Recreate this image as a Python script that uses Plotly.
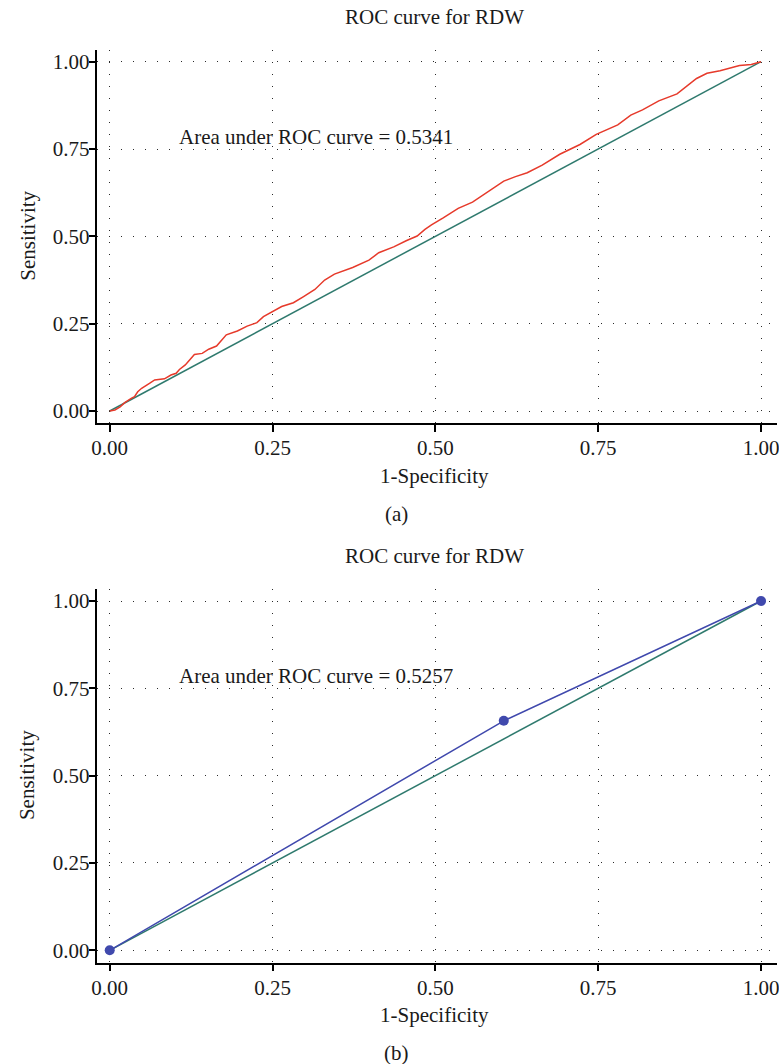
import plotly.graph_objects as go

# ---- data ----
fpr_a = [0.0, 0.008, 0.016, 0.023, 0.033, 0.038, 0.043, 0.049, 0.061, 0.069, 0.084, 0.094,
         0.102, 0.107, 0.116, 0.130, 0.142, 0.152, 0.164, 0.179, 0.196, 0.211, 0.226, 0.236,
         0.264, 0.282, 0.297, 0.315, 0.330, 0.345, 0.373, 0.398, 0.413, 0.436, 0.456, 0.472,
         0.484, 0.494, 0.512, 0.535, 0.557, 0.583, 0.605, 0.623, 0.641, 0.664, 0.691, 0.722,
         0.747, 0.780, 0.800, 0.818, 0.843, 0.871, 0.884, 0.901, 0.917, 0.937, 0.967, 0.985, 1.0]
tpr_a = [0.0, 0.003, 0.012, 0.024, 0.036, 0.041, 0.055, 0.065, 0.079, 0.089, 0.092, 0.103,
         0.108, 0.119, 0.132, 0.162, 0.165, 0.177, 0.186, 0.218, 0.229, 0.243, 0.253, 0.270,
         0.299, 0.310, 0.327, 0.348, 0.375, 0.392, 0.411, 0.432, 0.453, 0.470, 0.488, 0.501,
         0.520, 0.533, 0.553, 0.580, 0.598, 0.631, 0.658, 0.671, 0.682, 0.704, 0.735, 0.763,
         0.792, 0.819, 0.847, 0.862, 0.888, 0.908, 0.927, 0.952, 0.967, 0.974, 0.989, 0.992, 1.0]

fpr_b = [0.0, 0.605, 1.0]
tpr_b = [0.0, 0.657, 1.0]

ref_line = [0.0, 1.0]
tick_vals = [0.0, 0.25, 0.5, 0.75, 1.0]
tick_text = ["0.00", "0.25", "0.50", "0.75", "1.00"]

titles = ["ROC curve for RDW", "ROC curve for RDW"]
auc_text = ["Area under ROC curve = 0.5341", "Area under ROC curve = 0.5257"]
panel_labels = ["(a)", "(b)"]

# ---- style ----
W, H = 779, 1064
FONT = "Liberation Serif"
FS = 21
RED = "#e63a2b"
TEAL = "#2f7a6e"
BLUE = "#4049ad"
TXT = "#1a1a1a"
GRID = "#2a2a2a"


def px(x):
    return x / W


def py(y):
    return 1 - y / H


PANEL_OFF = 539.3
x_rng = [-0.019, 1.0245]
y_rng = [-0.0352, 1.0335]

fig = go.Figure()

for i in range(2):
    xa = "x" if i == 0 else "x2"
    ya = "y" if i == 0 else "y2"
    fig.add_trace(go.Scatter(x=ref_line, y=ref_line, mode="lines",
                             line=dict(color=TEAL, width=1.5), xaxis=xa, yaxis=ya,
                             showlegend=False, hoverinfo="skip"))

fig.add_trace(go.Scatter(x=fpr_a, y=tpr_a, mode="lines",
                         line=dict(color=RED, width=1.5), xaxis="x", yaxis="y",
                         showlegend=False))
fig.add_trace(go.Scatter(x=fpr_b, y=tpr_b, mode="lines+markers",
                         line=dict(color=BLUE, width=1.5),
                         marker=dict(color=BLUE, size=10),
                         xaxis="x2", yaxis="y2", showlegend=False, cliponaxis=False))

axis_common = dict(
    tickvals=tick_vals, ticktext=tick_text, showgrid=True, gridcolor=GRID,
    gridwidth=1, griddash="1px,11px", zeroline=False, showline=True,
    linecolor="black", linewidth=1.5, ticks="outside", ticklen=7, tickwidth=1.5,
    tickcolor="black", tickfont=dict(family=FONT, size=FS, color=TXT),
    ticklabeloverflow="allow",
)

layout = dict(
    width=W, height=H, margin=dict(l=0, r=0, t=0, b=0),
    paper_bgcolor="white", plot_bgcolor="white", showlegend=False,
)

for i in range(2):
    off = PANEL_OFF * i
    top, bot = 50 + off, 423.3 + off
    xk = "xaxis" if i == 0 else "xaxis2"
    yk = "yaxis" if i == 0 else "yaxis2"
    layout[xk] = dict(axis_common, range=x_rng, domain=[px(92.3), 1.0],
                      anchor="y" if i == 0 else "y2", ticklabelstandoff=-2)
    layout[yk] = dict(axis_common, range=y_rng, domain=[py(bot), py(top)],
                      anchor="x" if i == 0 else "x2", tickangle=0, ticklabelstandoff=-5)

fig.update_layout(**layout)

annotations = []
for i in range(2):
    off = PANEL_OFF * i
    xr = "x" if i == 0 else "x2"
    yr = "y" if i == 0 else "y2"
    annotations.append(dict(text=titles[i], x=px(433), y=py(16.5 + off), xref="paper", yref="paper",
                            showarrow=False, xanchor="center", yanchor="middle",
                            font=dict(family=FONT, size=FS, color=TXT)))
    annotations.append(dict(text="1-Specificity", x=px(433), y=py(475.7 + off), xref="paper",
                            yref="paper", showarrow=False, xanchor="center", yanchor="middle",
                            font=dict(family=FONT, size=FS, color=TXT)))
    annotations.append(dict(text=panel_labels[i], x=px(395), y=py(514 + off), xref="paper",
                            yref="paper", showarrow=False, xanchor="center", yanchor="middle",
                            font=dict(family=FONT, size=FS, color=TXT)))
    annotations.append(dict(text="Sensitivity", x=px(22), y=py(236 + off), xref="paper",
                            yref="paper", showarrow=False, xanchor="center", yanchor="middle",
                            textangle=-90, font=dict(family=FONT, size=FS, color=TXT)))
    annotations.append(dict(text=auc_text[i], x=0.104, y=0.785, xref=xr, yref=yr,
                            showarrow=False, xanchor="left", yanchor="middle",
                            font=dict(family=FONT, size=FS, color=TXT)))

fig.update_layout(annotations=annotations)

fig.write_html("out.html")
